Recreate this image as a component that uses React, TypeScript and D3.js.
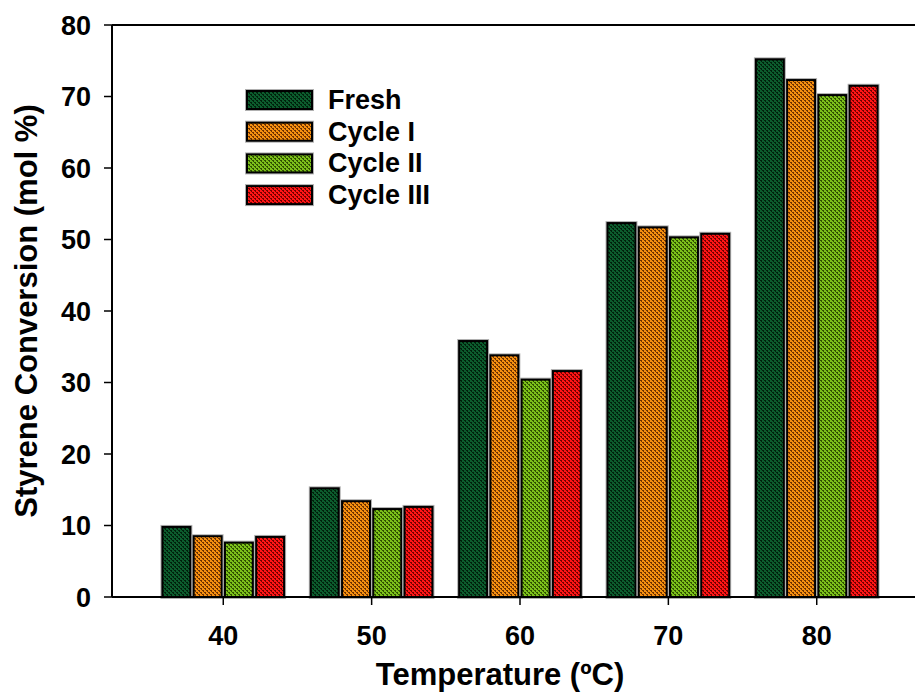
import React from "react";
import * as d3 from "d3";

// Reaction temperatures (ºC)
const temperatures = [40, 50, 60, 70, 80];

// Catalyst runs
const seriesNames = ["Fresh", "Cycle I", "Cycle II", "Cycle III"];

// Styrene conversion (mol %) per run, one value per temperature
const fresh = [9.8, 15.2, 35.8, 52.3, 75.2];
const cycleI = [8.5, 13.4, 33.8, 51.7, 72.3];
const cycleII = [7.6, 12.3, 30.4, 50.3, 70.2];
const cycleIII = [8.4, 12.6, 31.6, 50.8, 71.5];

const yTicks = [0, 10, 20, 30, 40, 50, 60, 70, 80];

const seriesValues = [fresh, cycleI, cycleII, cycleIII];

const fills = [
  { base: "#0c5c2d", dot: "#00210c" },
  { base: "#f58f10", dot: "#6e3200" },
  { base: "#7cc01a", dot: "#2f5200" },
  { base: "#ff1515", dot: "#720000" },
];

const W = 915;
const H = 692;
const margin = { left: 112, top: 25, bottom: 95 };
const plotRight = 928;
const FONT = "'Liberation Sans', Arial, sans-serif";

export default function App() {
  const x = d3.scaleLinear().domain([32.5, 87.5]).range([margin.left, plotRight]);
  const y = d3.scaleLinear().domain([0, 80]).range([H - margin.bottom, margin.top]);
  const groupHalf = 4.1; // half group width in ºC units
  const gw = x(groupHalf) - x(-groupHalf);
  // bar offset inside a group, relative to the group center
  const band = d3
    .scaleBand<number>()
    .domain(d3.range(seriesNames.length))
    .range([-gw / 2, gw / 2])
    .paddingInner(0.106);

  const y0 = y(0);

  return (
    <svg
      width={W}
      height={H}
      style={{ position: "absolute", left: 0, top: 0, background: "#fff" }}
      fontFamily={FONT}
    >
      <defs>
        {fills.map((f, i) => (
          <pattern key={i} id={`tex${i}`} width={4} height={4} patternUnits="userSpaceOnUse">
            <rect width={4} height={4} fill={f.base} />
            <rect x={0} y={0} width={2} height={1} fill={f.dot} />
            <rect x={1} y={1} width={1} height={1} fill={f.dot} />
            <rect x={2} y={2} width={2} height={1} fill={f.dot} />
            <rect x={3} y={3} width={1} height={1} fill={f.dot} />
          </pattern>
        ))}
      </defs>

      {/* bars */}
      {seriesValues.map((vals, si) => (
        <g key={si}>
          {temperatures.map((t, ti) => {
            const bx = x(t) + (band(si) as number);
            const bw = band.bandwidth();
            const by = y(vals[ti]);
            return (
              <g key={ti}>
                <rect
                  x={bx}
                  y={by}
                  width={bw}
                  height={y0 - by}
                  fill="none"
                  stroke="#b0b0b0"
                  strokeWidth={4}
                />
                <rect
                  x={bx}
                  y={by}
                  width={bw}
                  height={y0 - by}
                  fill={`url(#tex${si})`}
                  stroke="#000"
                  strokeWidth={2}
                />
              </g>
            );
          })}
        </g>
      ))}

      {/* frame: left, top and bottom lines */}
      <line x1={margin.left} x2={margin.left} y1={y(80)} y2={y0} stroke="#000" strokeWidth={2} />
      <line x1={margin.left} x2={plotRight} y1={y(80)} y2={y(80)} stroke="#000" strokeWidth={2} />
      <line x1={margin.left} x2={plotRight} y1={y0} y2={y0} stroke="#000" strokeWidth={2} />

      {/* y ticks */}
      {yTicks.map((v) => (
        <g key={v}>
          <line x1={margin.left - 8} x2={margin.left} y1={y(v)} y2={y(v)} stroke="#000" strokeWidth={1.5} />
          <text x={91} y={y(v)} dy="0.36em" textAnchor="end" fontSize={27} fontWeight="bold">
            {v}
          </text>
        </g>
      ))}

      {/* x ticks */}
      {temperatures.map((t) => (
        <g key={t}>
          <line x1={x(t)} x2={x(t)} y1={y0} y2={y0 + 8} stroke="#000" strokeWidth={1.5} />
          <text x={x(t)} y={645} textAnchor="middle" fontSize={27} fontWeight="bold">
            {t}
          </text>
        </g>
      ))}

      {/* axis titles */}
      <text x={500} y={685} textAnchor="middle" fontSize={31} fontWeight="bold">
        Temperature (ºC)
      </text>
      <text
        transform={`translate(37, ${(y(80) + y0) / 2}) rotate(-90)`}
        textAnchor="middle"
        fontSize={31}
        fontWeight="bold"
      >
        Styrene Conversion (mol %)
      </text>

      {/* legend */}
      {seriesNames.map((name, i) => {
        const cy = 100 + i * 31.7;
        return (
          <g key={name}>
            <rect x={247} y={cy - 9} width={65} height={18} fill="none" stroke="#b0b0b0" strokeWidth={4} />
            <rect x={247} y={cy - 9} width={65} height={18} fill={`url(#tex${i})`} stroke="#000" strokeWidth={2} />
            <text x={328} y={cy + 9} fontSize={27} fontWeight="bold">
              {name}
            </text>
          </g>
        );
      })}
    </svg>
  );
}
